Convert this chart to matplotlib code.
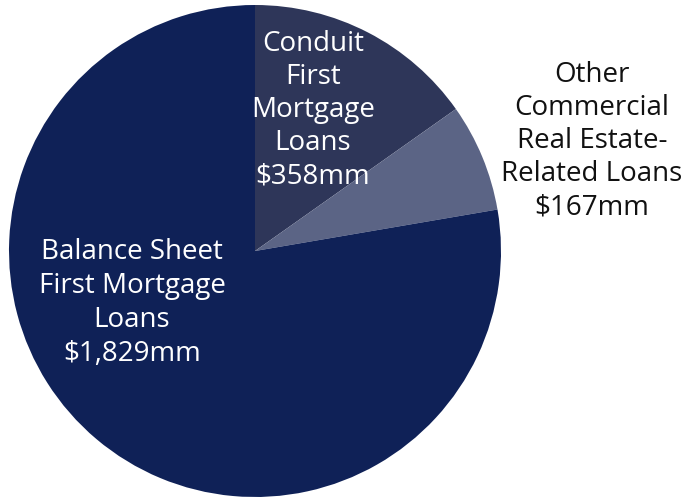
import matplotlib.pyplot as plt

# loan book composition, $mm
labels = ["Conduit\nFirst\nMortgage\nLoans",
          "Other\nCommercial\nReal Estate-\nRelated Loans",
          "Balance Sheet\nFirst Mortgage\nLoans"]
values = [358, 167, 1829]
colors = ["#2e3659", "#5b6485", "#0f2157"]

plt.rcParams['font.family'] = ['Open Sans', 'DejaVu Sans']

fig = plt.figure(figsize=(6.85, 4.99), dpi=100)
ax = fig.add_axes([0, 0, 1, 1])

cx, cy, r = 255, 248, 246
ax.pie(values, colors=colors, startangle=90, counterclock=False,
       center=(cx, cy), radius=r, frame=True,
       wedgeprops=dict(linewidth=0))
ax.set_xlim(0, 685)
ax.set_ylim(0, 499)
ax.axis('off')

texts = [f"{labels[i]}\n${values[i]:,}mm" for i in range(3)]
fs = 20
ax.text(313, 499 - 110, texts[0], color='white', fontsize=fs,
        ha='center', va='center', linespacing=1.25)
ax.text(592, 499 - 141, texts[1], color='#111111', fontsize=fs,
        ha='center', va='center', linespacing=1.25)
ax.text(132, 499 - 303, texts[2], color='white', fontsize=fs,
        ha='center', va='center', linespacing=1.28)

fig.savefig("out.png", dpi=100)
